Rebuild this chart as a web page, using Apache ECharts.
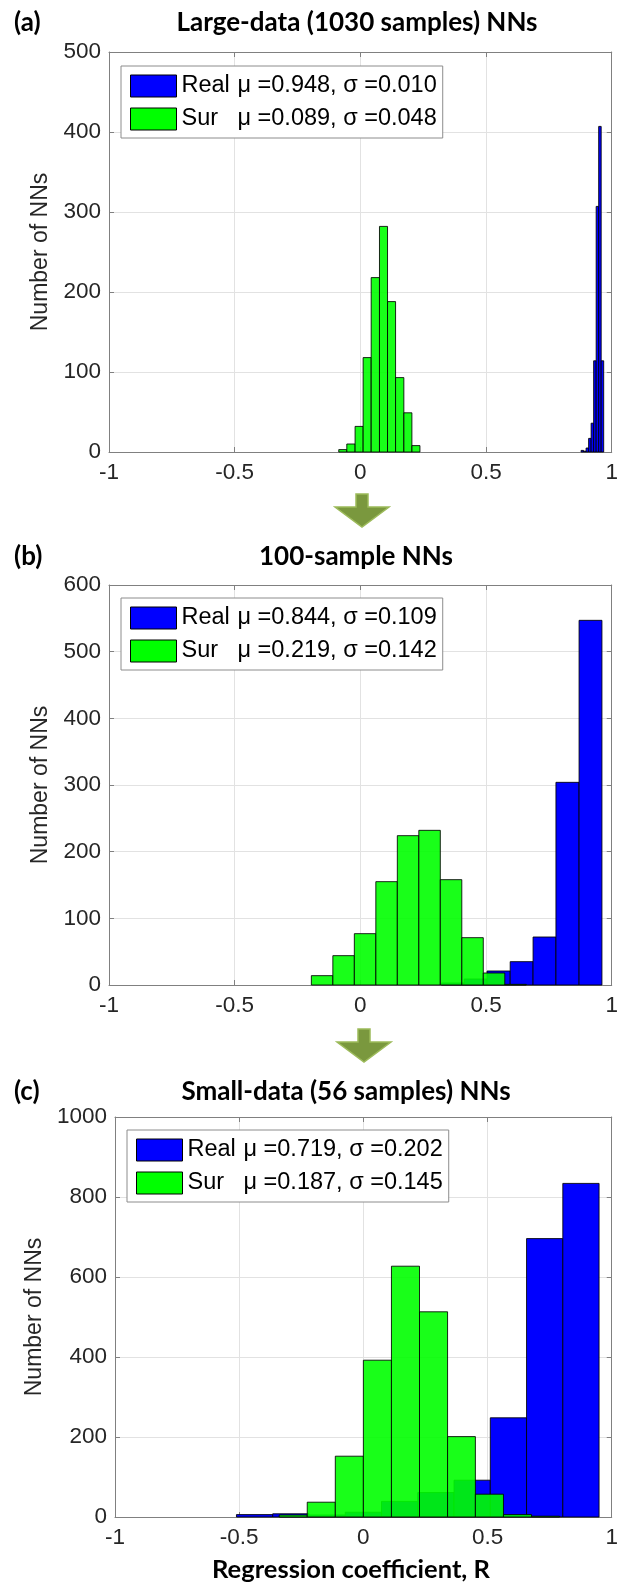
<!DOCTYPE html>
<html><head><meta charset="utf-8">
<script src="https://cdn.jsdelivr.net/npm/echarts@6/dist/echarts.min.js"></script>
<style>html,body{margin:0;padding:0;background:#fff;}#c{width:621px;height:1586px;}</style>
</head><body><div id="c"></div>
<script>
// ---------- data ----------
const X_MIN = -1, X_MAX = 1, X_STEP = 0.5;
const Y_MAX = [500, 600, 1000];
const Y_STEP = [100, 100, 200];
const PANEL_LABELS = ['(a)', '(b)', '(c)'];
const PANEL_TITLES = ['Large-data (1030 samples) NNs', '100-sample NNs', 'Small-data (56 samples) NNs'];
const X_TITLE = 'Regression coefficient, R';
const Y_TITLE = 'Number of NNs';
const SERIES_NAMES = ['Real', 'Sur'];
const LEGEND_STATS = [
  ['μ =0.948, σ =0.010', 'μ =0.089, σ =0.048'],
  ['μ =0.844, σ =0.109', 'μ =0.219, σ =0.142'],
  ['μ =0.719, σ =0.202', 'μ =0.187, σ =0.145']
];
// panel (a)
const REAL_A_EDGES = [0.878, 0.888, 0.898, 0.908, 0.918, 0.928, 0.938, 0.948, 0.958, 0.968];
const REAL_A_COUNTS = [2, 1, 5, 17, 36, 114, 307, 407, 114];
const SUR_A_EDGES = [-0.086, -0.054, -0.021, 0.011, 0.043, 0.076, 0.108, 0.140, 0.173, 0.205, 0.237];
const SUR_A_COUNTS = [3, 10, 32, 118, 218, 282, 188, 93, 49, 8];
// panel (b)
const REAL_B_EDGES = [0.322, 0.413, 0.504, 0.596, 0.687, 0.778, 0.870, 0.961];
const REAL_B_COUNTS = [3, 9, 21, 35, 72, 304, 547];
const SUR_B_EDGES = [-0.195, -0.1095, -0.024, 0.0615, 0.147, 0.2325, 0.318, 0.4035, 0.489, 0.5745, 0.66];
const SUR_B_COUNTS = [14, 44, 77, 155, 224, 232, 158, 71, 18, 1];
// panel (c)
const REAL_C_EDGES = [-0.511, -0.365, -0.219, -0.073, 0.073, 0.219, 0.365, 0.511, 0.657, 0.803, 0.949];
const REAL_C_COUNTS = [6, 8, 5, 12, 39, 61, 92, 248, 696, 834];
const SUR_C_EDGES = [-0.339, -0.226, -0.113, 0, 0.113, 0.226, 0.339, 0.451, 0.564, 0.677, 0.79];
const SUR_C_COUNTS = [5, 37, 152, 392, 627, 513, 201, 57, 6, 2];

const HISTS = [
  [[REAL_A_EDGES, REAL_A_COUNTS], [SUR_A_EDGES, SUR_A_COUNTS]],
  [[REAL_B_EDGES, REAL_B_COUNTS], [SUR_B_EDGES, SUR_B_COUNTS]],
  [[REAL_C_EDGES, REAL_C_COUNTS], [SUR_C_EDGES, SUR_C_COUNTS]]
];

// ---------- layout / style ----------
const FONT = "'Liberation Sans', Arial, sans-serif";
const BFONT = "Lato, 'Open Sans', sans-serif";
const GRIDS = [
  {left: 109, top: 52, width: 506, height: 400},
  {left: 109, top: 585, width: 507, height: 400},
  {left: 115, top: 1117, width: 502, height: 400}
];
const LEGEND_POS = [{left: 121, top: 66}, {left: 121, top: 598}, {left: 127, top: 1130}];
const TITLE_Y = [23, 557, 1092];
const TITLE_X = [357, 356, 346];
const Y_NAME_GAP = [44, 44, 48];
const FILLS = ['#0000ff', 'rgba(0,255,0,0.9)'];
const AXIS_COLOR = '#808080';
const GRID_COLOR = '#e2e2e2';
const TICK_FS = 22.5;

function histItem(fill) {
  return function (params, api) {
    const p0 = api.coord([api.value(0), 0]);
    const p1 = api.coord([api.value(1), api.value(2)]);
    return {
      type: 'rect',
      shape: {x: p0[0], y: p1[1], width: p1[0] - p0[0], height: p0[1] - p1[1]},
      style: {fill: fill, stroke: 'rgba(0,0,0,0.85)', lineWidth: 1}
    };
  };
}

const xAxes = [], yAxes = [], series = [], legends = [];
const legendText = {};
for (let i = 0; i < 3; i++) {
  const common = {gridIndex: i, type: 'value',
    axisLine: {show: true, onZero: false, lineStyle: {color: AXIS_COLOR}},
    axisTick: {show: true, inside: true, length: 5, lineStyle: {color: AXIS_COLOR}}};
  xAxes.push(Object.assign({}, common, {min: X_MIN, max: X_MAX, interval: X_STEP, position: 'bottom',
    axisLabel: {fontSize: TICK_FS, color: '#262626', margin: 9, fontFamily: FONT},
    splitLine: {show: true, lineStyle: {color: GRID_COLOR}}}));
  xAxes.push(Object.assign({}, common, {min: X_MIN, max: X_MAX, interval: X_STEP, position: 'top',
    axisLabel: {show: false}, splitLine: {show: false}}));
  yAxes.push(Object.assign({}, common, {min: 0, max: Y_MAX[i], interval: Y_STEP[i], position: 'left',
    name: Y_TITLE, nameLocation: 'middle', nameGap: Y_NAME_GAP[i],
    nameTextStyle: {fontSize: 23, color: '#262626', fontFamily: FONT},
    axisLabel: {fontSize: TICK_FS, color: '#262626', margin: 8, fontFamily: FONT, formatter: v => String(v)},
    splitLine: {show: true, lineStyle: {color: GRID_COLOR}}}));
  yAxes.push(Object.assign({}, common, {min: 0, max: Y_MAX[i], interval: Y_STEP[i], position: 'right',
    axisLabel: {show: false}, splitLine: {show: false}}));

  const legData = [];
  for (let s = 0; s < 2; s++) {
    const [edges, counts] = HISTS[i][s];
    const name = SERIES_NAMES[s] + ' ' + PANEL_LABELS[i];
    legendText[name] = [SERIES_NAMES[s], LEGEND_STATS[i][s]];
    series.push({
      type: 'custom', name: name, xAxisIndex: 2 * i, yAxisIndex: 2 * i,
      renderItem: histItem(FILLS[s]),
      encode: {x: [0, 1], y: 2},
      itemStyle: {color: FILLS[s]},
      z: 2 + s,
      data: counts.map((c, k) => [edges[k], edges[k + 1], c])
    });
    legData.push({name: name, icon: 'rect',
      itemStyle: {color: s === 0 ? '#0000ff' : '#00ff00', borderColor: '#000', borderWidth: 1}});
  }
  legends.push({
    left: LEGEND_POS[i].left, top: LEGEND_POS[i].top, orient: 'vertical',
    data: legData, selectedMode: false,
    itemWidth: 46, itemHeight: 22, itemGap: 9,
    padding: [8, 6, 7, 9], borderColor: '#8c8c8c', borderWidth: 1, backgroundColor: '#fff',
    formatter: n => '{n|' + legendText[n][0] + '}{v|' + legendText[n][1] + '}',
    textStyle: {fontFamily: FONT, fontSize: 23.5, color: '#000',
      rich: {n: {width: 56, fontSize: 23.5, fontFamily: FONT, color: '#000'},
             v: {fontSize: 23.5, fontFamily: FONT, color: '#000'}}}
  });
}

const graphics = [];
for (let i = 0; i < 3; i++) {
  graphics.push({type: 'text', x: 14, y: TITLE_Y[i], style: {text: PANEL_LABELS[i],
    font: 'bold 26px ' + BFONT, fill: '#000', align: 'left', verticalAlign: 'middle'}});
  graphics.push({type: 'text', x: TITLE_X[i], y: TITLE_Y[i], style: {text: PANEL_TITLES[i],
    font: 'bold 26px ' + BFONT, fill: '#000', align: 'center', verticalAlign: 'middle'}});
}
graphics.push({type: 'text', x: 351, y: 1570, style: {text: X_TITLE,
  font: 'bold 25.5px ' + BFONT, fill: '#000', align: 'center', verticalAlign: 'middle'}});
function arrow(cx, t, h, b) {
  return {type: 'polygon', shape: {points: [[cx - 6, t], [cx + 6, t], [cx + 6, h], [cx + 27, h], [cx, b], [cx - 27, h], [cx - 6, h]]},
    style: {fill: '#7a983e', stroke: '#9cba5a', lineWidth: 1.5}};
}
graphics.push(arrow(362, 494, 507, 527));
graphics.push(arrow(364, 1029, 1042, 1062));

const chart = echarts.init(document.getElementById('c'), null, {renderer: 'canvas'});
chart.setOption({
  animation: false,
  backgroundColor: '#fff',
  grid: GRIDS.map(g => Object.assign({containLabel: false}, g)),
  xAxis: xAxes, yAxis: yAxes, series: series, legend: legends, graphic: graphics
});
</script></body></html>
